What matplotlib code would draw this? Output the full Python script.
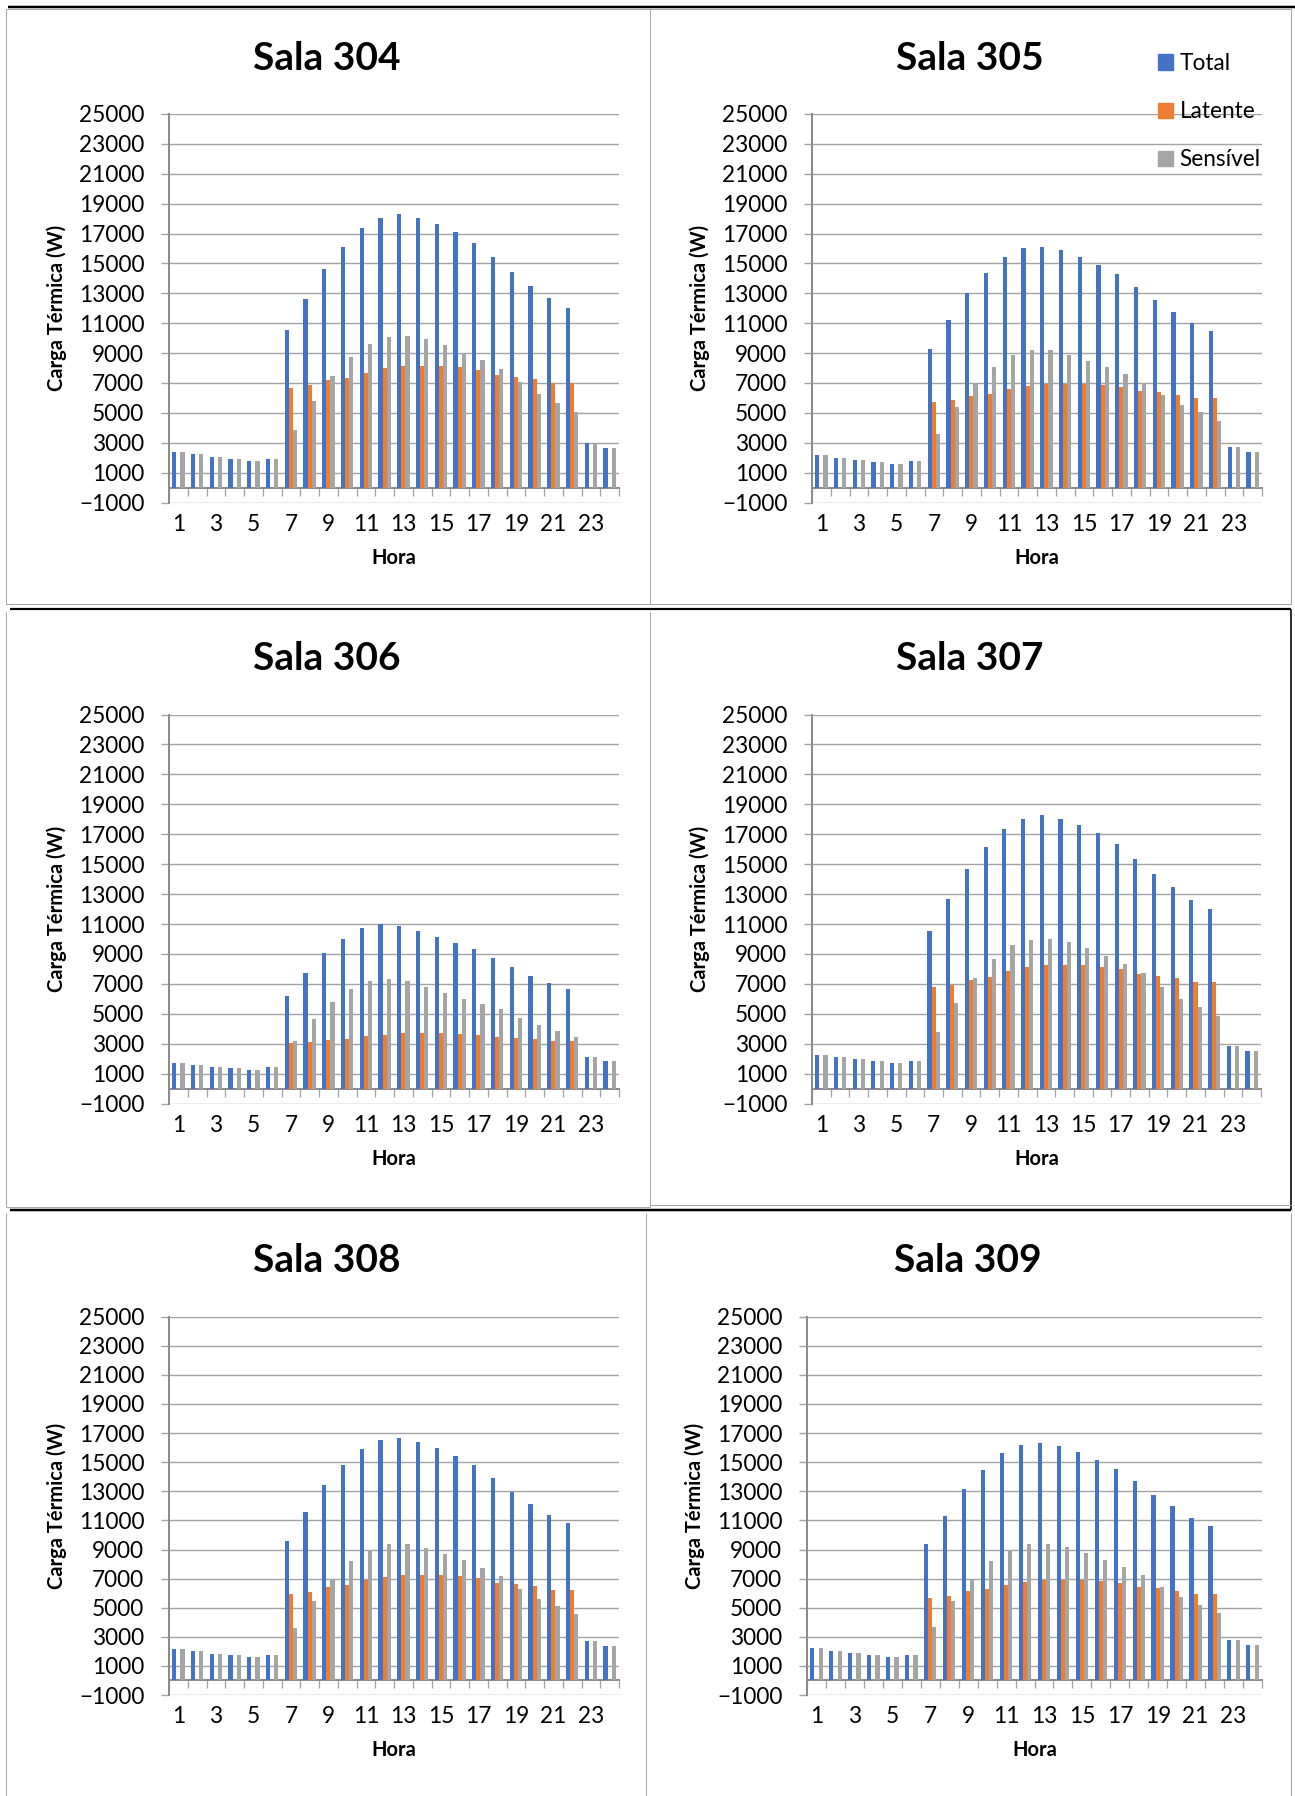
import numpy as np
import matplotlib
matplotlib.use("Agg")
import matplotlib.pyplot as plt
from matplotlib.lines import Line2D
from matplotlib.patches import Patch

plt.rcParams['font.family'] = ['Lato', 'DejaVu Sans']

# carga térmica por hora (W)
horas = np.arange(1, 25)
rotulos_horas = [str(h) for h in range(1, 24, 2)]

total_304 = [2380, 2220, 2040, 1910, 1770, 1910, 10520, 12610, 14600, 16070, 17340, 18010,
             18280, 18050, 17670, 17090, 16400, 15420, 14420, 13500, 12660, 12050, 2980, 2640]
latente_304 = [0, 0, 0, 0, 0, 0, 6660, 6840, 7190, 7350, 7700, 7970,
               8130, 8130, 8130, 8040, 7880, 7500, 7410, 7260, 7010, 7010, 0, 0]
sensivel_304 = [2380, 2220, 2040, 1910, 1770, 1910, 3870, 5790, 7440, 8730, 9640, 10070,
                10140, 9910, 9530, 9020, 8530, 7930, 7040, 6230, 5650, 5030, 2980, 2640]

total_305 = [2150, 1970, 1840, 1710, 1570, 1750, 9290, 11210, 13030, 14330, 15420, 16000,
             16130, 15870, 15440, 14910, 14280, 13440, 12520, 11720, 10980, 10450, 2690, 2350]
latente_305 = [0, 0, 0, 0, 0, 0, 5700, 5830, 6120, 6260, 6570, 6790,
               6920, 6920, 6920, 6860, 6720, 6430, 6370, 6210, 5990, 5990, 0, 0]
sensivel_305 = [2150, 1970, 1840, 1710, 1570, 1750, 3580, 5390, 6920, 8060, 8860, 9180,
                9180, 8890, 8490, 8040, 7570, 7010, 6190, 5520, 5030, 4470, 2690, 2350]

total_306 = [1700, 1560, 1450, 1360, 1230, 1430, 6200, 7760, 9080, 9990, 10730, 10990,
             10900, 10550, 10120, 9700, 9300, 8740, 8100, 7540, 7070, 6690, 2140, 1870]
latente_306 = [0, 0, 0, 0, 0, 0, 3060, 3100, 3280, 3350, 3520, 3610,
               3700, 3700, 3700, 3660, 3590, 3430, 3390, 3300, 3190, 3190, 0, 0]
sensivel_306 = [1700, 1560, 1450, 1360, 1230, 1430, 3170, 4640, 5800, 6640, 7180, 7310,
                7180, 6800, 6380, 6020, 5660, 5310, 4710, 4220, 3840, 3460, 2140, 1870]

total_307 = [2280, 2120, 1990, 1830, 1720, 1850, 10530, 12640, 14670, 16120, 17370, 18040,
             18290, 18040, 17640, 17060, 16370, 15370, 14340, 13450, 12580, 12020, 2850, 2520]
latente_307 = [0, 0, 0, 0, 0, 0, 6760, 6940, 7290, 7470, 7830, 8100,
               8250, 8250, 8250, 8160, 8010, 7630, 7540, 7380, 7140, 7110, 0, 0]
sensivel_307 = [2280, 2120, 1990, 1830, 1720, 1850, 3770, 5690, 7360, 8630, 9570, 9950,
                10010, 9770, 9370, 8850, 8340, 7720, 6760, 6020, 5460, 4880, 2850, 2520]

total_308 = [2160, 2000, 1840, 1730, 1590, 1750, 9580, 11580, 13430, 14780, 15930, 16520,
             16680, 16390, 15970, 15450, 14780, 13910, 12970, 12130, 11370, 10820, 2690, 2370]
latente_308 = [0, 0, 0, 0, 0, 0, 5920, 6080, 6400, 6560, 6880, 7110,
               7250, 7250, 7250, 7180, 7040, 6720, 6630, 6490, 6240, 6240, 0, 0]
sensivel_308 = [2160, 2000, 1840, 1730, 1590, 1750, 3630, 5460, 7000, 8210, 8990, 9380,
                9380, 9130, 8710, 8260, 7750, 7180, 6310, 5620, 5120, 4570, 2690, 2370]

total_309 = [2210, 2030, 1870, 1730, 1610, 1750, 9360, 11300, 13160, 14460, 15610, 16160,
             16340, 16090, 15700, 15170, 14550, 13680, 12770, 11970, 11190, 10640, 2760, 2440]
latente_309 = [0, 0, 0, 0, 0, 0, 5670, 5810, 6130, 6260, 6540, 6770,
               6930, 6930, 6930, 6860, 6700, 6400, 6330, 6170, 5940, 5940, 0, 0]
sensivel_309 = [2210, 2030, 1870, 1730, 1610, 1750, 3680, 5460, 7000, 8190, 8990, 9380,
                9380, 9170, 8760, 8280, 7820, 7270, 6420, 5740, 5190, 4660, 2760, 2440]

salas = [
    ("Sala 304", total_304, latente_304, sensivel_304),
    ("Sala 305", total_305, latente_305, sensivel_305),
    ("Sala 306", total_306, latente_306, sensivel_306),
    ("Sala 307", total_307, latente_307, sensivel_307),
    ("Sala 308", total_308, latente_308, sensivel_308),
    ("Sala 309", total_309, latente_309, sensivel_309),
]

W, H = 1295, 1796
# caixas dos gráficos em pixels (x0, y0, x1, y1), origem no canto superior esquerdo
caixas = [
    (169, 114, 619, 502.5),
    (812, 114, 1262, 502.5),
    (169, 714.5, 619, 1103.6),
    (812, 714.5, 1261, 1103.6),
    (169, 1316.7, 619, 1695),
    (807, 1316.7, 1262, 1695),
]

AZUL = '#4472C4'
LARANJA = '#ED7D31'
CINZA = '#A5A5A5'
GRADE = '#a3a3a3'
EIXO = '#8c8c8c'
PT = 0.72  # pontos por pixel a 100 dpi

fig = plt.figure(figsize=(W / 100, H / 100), dpi=100)


def linha(x0, y0, x1, y1, cor='#a6a6a6', lw=1.0):
    fig.add_artist(Line2D([x0 / W, x1 / W], [1 - y0 / H, 1 - y1 / H],
                          transform=fig.transFigure, color=cor, lw=lw * PT,
                          solid_capstyle='butt'))


# moldura da tabela
linha(8, 7, 1295, 7, 'black', 2.5)
linha(6, 9, 1291, 9)
for x in (6, 650, 1291):
    linha(x, 9, x, 604)
linha(6, 604, 1291, 604)
linha(10, 609, 1291, 609, 'black', 2.2)
for x in (6, 650):
    linha(x, 612, x, 1207)
linha(1291, 609, 1291, 1210, 'black', 1.6)
linha(6, 1207, 650, 1207)
linha(650, 1205, 1291, 1205)
linha(10, 1210, 1291, 1210, 'black', 2.5)
for x in (6, 646, 1291):
    linha(x, 1213, x, 1796)

larg = 0.22
zero_frac = 1000 / 26000

for (titulo, total, latente, sensivel), (x0, y0, x1, y1) in zip(salas, caixas):
    ax = fig.add_axes([x0 / W, 1 - y1 / H, (x1 - x0) / W, (y1 - y0) / H])
    ax.set_axisbelow(True)
    ax.bar(horas - larg, total, larg, color=AZUL, label='Total')
    ax.bar(horas, latente, larg, color=LARANJA, label='Latente')
    ax.bar(horas + larg, sensivel, larg, color=CINZA, label='Sensível')

    ax.set_xlim(0.5, 24.5)
    ax.set_ylim(-1000, 25000)
    ax.set_yticks(np.arange(-1000, 25001, 2000))
    ax.yaxis.grid(True, color=GRADE, lw=1.4 * PT)
    ax.tick_params(axis='y', length=8 * PT, width=1.4 * PT, color=GRADE,
                   labelsize=16.3, pad=12)
    ax.set_xticks(np.arange(1, 24, 2))
    ax.set_xticklabels(rotulos_horas)
    ax.tick_params(axis='x', length=0, labelsize=16.3, pad=8)
    for lado in ('top', 'right', 'bottom'):
        ax.spines[lado].set_visible(False)
    ax.spines['left'].set_color(EIXO)
    ax.spines['left'].set_linewidth(2 * PT)

    # eixo de categorias cruzando em zero, com marcas entre as horas
    sec = ax.secondary_xaxis(zero_frac)
    sec.set_xticks(np.arange(0.5, 25, 1))
    sec.tick_params(length=8 * PT, width=1.3 * PT, color=GRADE, labelbottom=False)
    sec.spines['bottom'].set_color(EIXO)
    sec.spines['bottom'].set_linewidth(2 * PT)

    cx = (x0 + x1) / 2
    fig.text((cx - 67) / W, 1 - (y0 - 56) / H, titulo, ha='center', va='center',
             fontsize=28, fontweight='bold')
    fig.text(cx / W, 1 - (y1 + 55.5) / H, 'Hora', ha='center', va='center',
             fontsize=14.5, fontweight='bold')
    fig.text((x0 - 112) / W, 1 - ((y0 + y1) / 2) / H, 'Carga Térmica (W)',
             ha='center', va='center', rotation=90, fontsize=14.5, fontweight='bold')

    if titulo == 'Sala 305':
        handles = [Patch(color=AZUL), Patch(color=LARANJA), Patch(color=CINZA)]
        fig.legend(handles, ['Total', 'Latente', 'Sensível'], loc='upper left',
                   bbox_to_anchor=(1158 / W, 1 - 53 / H), bbox_transform=fig.transFigure,
                   frameon=False, fontsize=16.3, handlelength=0.66, handleheight=0.66,
                   handletextpad=0.3, labelspacing=1.2, borderpad=0, borderaxespad=0)

fig.savefig('out.png', dpi=100)
